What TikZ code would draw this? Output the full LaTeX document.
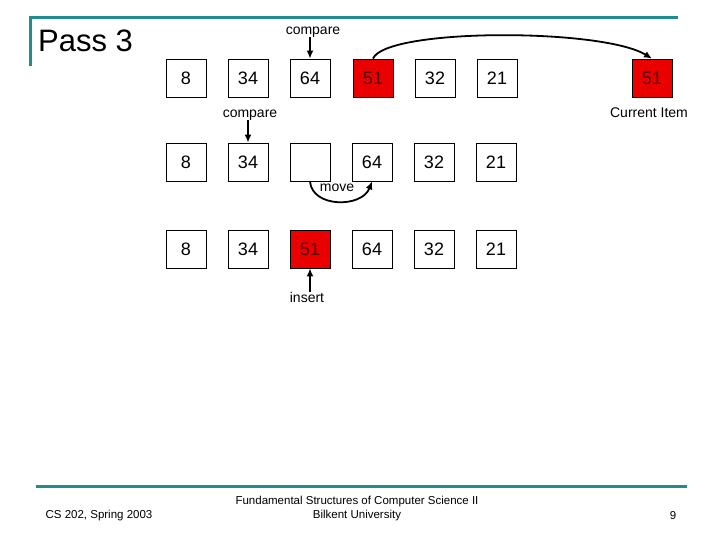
\documentclass[tikz,border=0pt]{standalone}
\usepackage{fontspec}
\setmainfont{Liberation Sans}
\usetikzlibrary{arrows.meta}
\definecolor{slideteal}{RGB}{32,140,140}
\definecolor{itemred}{RGB}{235,0,0}
\definecolor{itemtext}{RGB}{80,0,0}
\tikzset{
  cell/.style={rectangle, draw=black, fill=white, minimum width=40pt,
               minimum height=38pt, font=\fontsize{18}{18}\selectfont,
               line width=0.8pt, inner sep=0pt},
  redcell/.style={cell, fill=itemred, text=itemtext},
  note/.style={font=\fontsize{14}{14}\selectfont, inner sep=0pt},
  footnote/.style={font=\fontsize{11.5}{14}\selectfont, inner sep=0pt, align=center},
  pointer/.style={-{Latex[length=8pt,width=7pt]}, line width=1.8pt},
  slideline/.style={slideteal, line width=3pt}
}
\begin{document}
\begin{tikzpicture}[x=1pt, y=-1pt]
  \useasboundingbox (0,0) rectangle (720,540);

  % slide frame
  \draw[slideline] (30,66) -- (30,18) -- (678,18);
  \draw[slideline] (36,486) -- (687,486);
  \node[font=\fontsize{31}{31}\selectfont, anchor=west, inner sep=0pt] (title) at (38,41) {Pass 3};

  % row 1
  \foreach \v [count=\k] in {8,34,64} {
    \node[cell] (a\k) at (124+62*\k, 78) {\v};
  }
  \node[redcell] (a4) at (373, 78) {51};
  \node[cell] (a5) at (435, 78) {32};
  \node[cell] (a6) at (497, 78) {21};
  \node[redcell] (cur) at (652, 78) {51};

  % row 2
  \foreach \v [count=\k] in {8,34,,64,32,21} {
    \node[cell] (b\k) at (124+62*\k, 162) {\v};
  }

  % row 3
  \foreach \v [count=\k] in {8,34,51,64,32,21} {
    \node[cell] (r\k) at (124+62*\k, 249) {\v};
  }
  \node[redcell] (r3) at (310, 249) {51};

  % labels
  \node[note] (cmp1) at (313,32) {compare};
  \node[note] (cmp2) at (250,115) {compare};
  \node[note] (curlabel) at (649,113) {Current Item};
  \node[note] (movelabel) at (337,188) {move};
  \node[note] (ins) at (307,297) {insert};

  \draw[pointer] (a3.north |- cmp1.south) -- (a3.north);
  \draw[pointer] (a4.north) .. controls (386,28) and (602,28) .. (cur.north);
  \draw[pointer] (b2.north |- cmp2.south) -- (b2.north);
  \draw[pointer] (b3.south) .. controls (312,208) and (362,208) .. (b4.south);
  \draw[pointer] (r3.south |- ins.north) -- (r3.south);

  % footer
  \node[footnote] (course) at (99,516) {CS 202, Spring 2003};
  \node[footnote] (book) at (357,509) {Fundamental Structures of Computer Science II\\Bilkent University};
  \node[footnote] (page) at (673,516) {9};
\end{tikzpicture}
\end{document}
